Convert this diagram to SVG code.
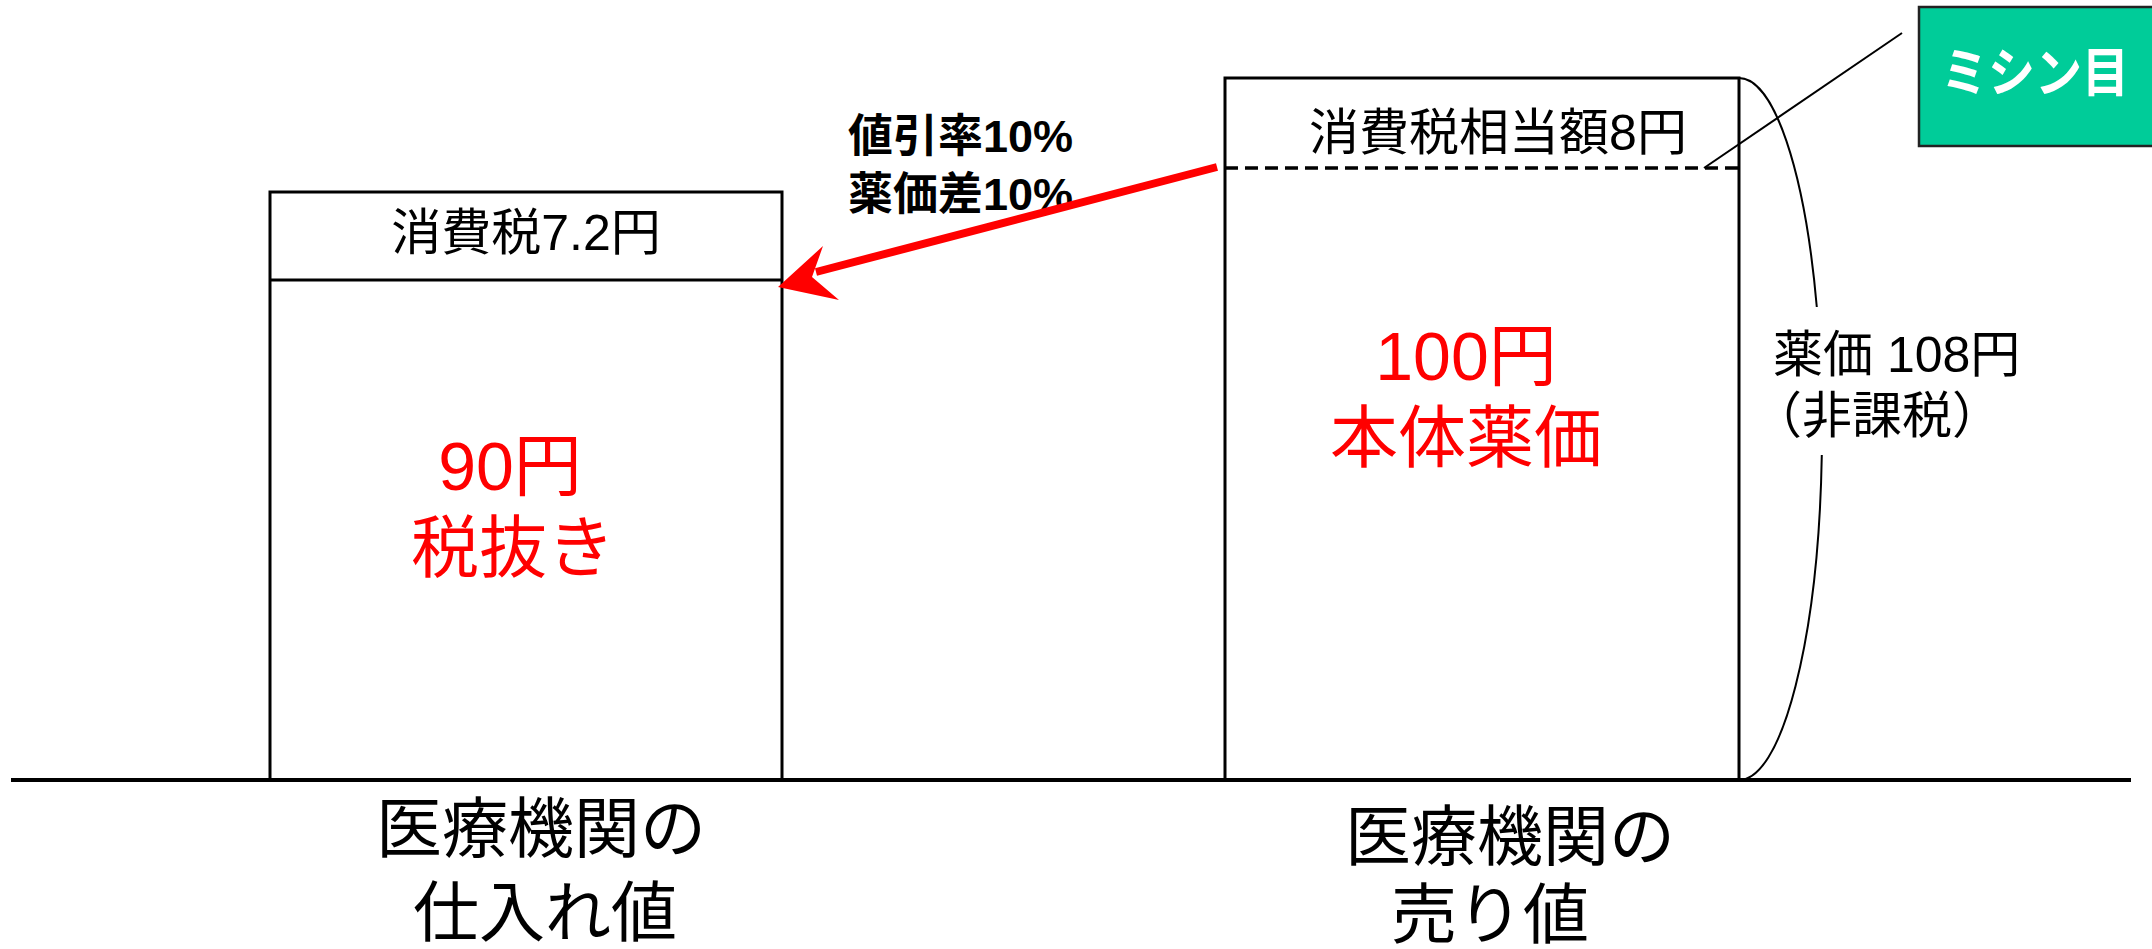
<svg xmlns="http://www.w3.org/2000/svg" width="2152" height="949" viewBox="0 0 2152 949">
<style>
text{font-family:"Liberation Sans","Noto Sans CJK JP",sans-serif;fill:#000}
.box{fill:#fff;stroke:#000;stroke-width:3}
.lbl{font-size:50px}
.red{font-size:68px;fill:#ff0000;text-anchor:middle}
.cap{font-size:66px;text-anchor:middle}
.bold{font-size:45px;font-weight:bold}
.thin{fill:none;stroke:#000;stroke-width:2}
</style>
<rect width="2152" height="949" fill="#fff"/>
<g id="left-box">
<rect class="box" x="270" y="192" width="512" height="588"/>
<line x1="270" y1="280" x2="782" y2="280" stroke="#000" stroke-width="3"/>
<text class="lbl" x="526" y="250" text-anchor="middle">消費税7.2円</text>
<text class="red" x="510" y="490">90円</text>
<text class="red" x="513" y="572">税抜き</text>
</g>
<g id="right-box">
<rect class="box" x="1225" y="78" width="514" height="702"/>
<line x1="1225" y1="168" x2="1739" y2="168" stroke="#000" stroke-width="3.5" stroke-dasharray="13,7"/>
<text class="lbl" x="1498" y="150" text-anchor="middle">消費税相当額8円</text>
<text class="red" x="1466" y="380">100円</text>
<text class="red" x="1466" y="462">本体薬価</text>
</g>
<g id="tag">
<rect x="1919" y="7" width="240" height="139" fill="#00cc99" stroke="#222" stroke-width="2.5"/>
<text x="2035" y="92" text-anchor="middle" font-size="53" font-weight="bold" style="fill:#fff" textLength="188" lengthAdjust="spacingAndGlyphs">ミシン目</text>
</g>
<g id="discount-label">
<text class="bold" x="848" y="152">値引率10%</text>
<text class="bold" x="848" y="210">薬価差10%</text>
</g>
<g id="price-label">
<text class="lbl" x="1773" y="372">薬価 108円</text>
<text class="lbl" x="1752" y="433">（非課税）</text>
</g>
<g id="bottom-labels">
<text class="cap" x="541" y="852">医療機関の</text>
<text class="cap" x="545" y="936">仕入れ値</text>
<text class="cap" x="1510" y="860">医療機関の</text>
<text class="cap" x="1490" y="938">売り値</text>
</g>
<g id="connectors">
<line x1="11" y1="780" x2="2131" y2="780" stroke="#000" stroke-width="4"/>
<line x1="1217" y1="167" x2="816" y2="272" stroke="#ff0000" stroke-width="8"/>
<polygon points="778,287 823,246 812,277 839,300" fill="#ff0000"/>
<line class="thin" x1="1704" y1="168" x2="1902" y2="33"/>
<path class="thin" d="M1739,78 A83,351 0 0 1 1816.8,307"/>
<path class="thin" d="M1821.8,455 A83,351 0 0 1 1739,780"/>
</g>
</svg>
